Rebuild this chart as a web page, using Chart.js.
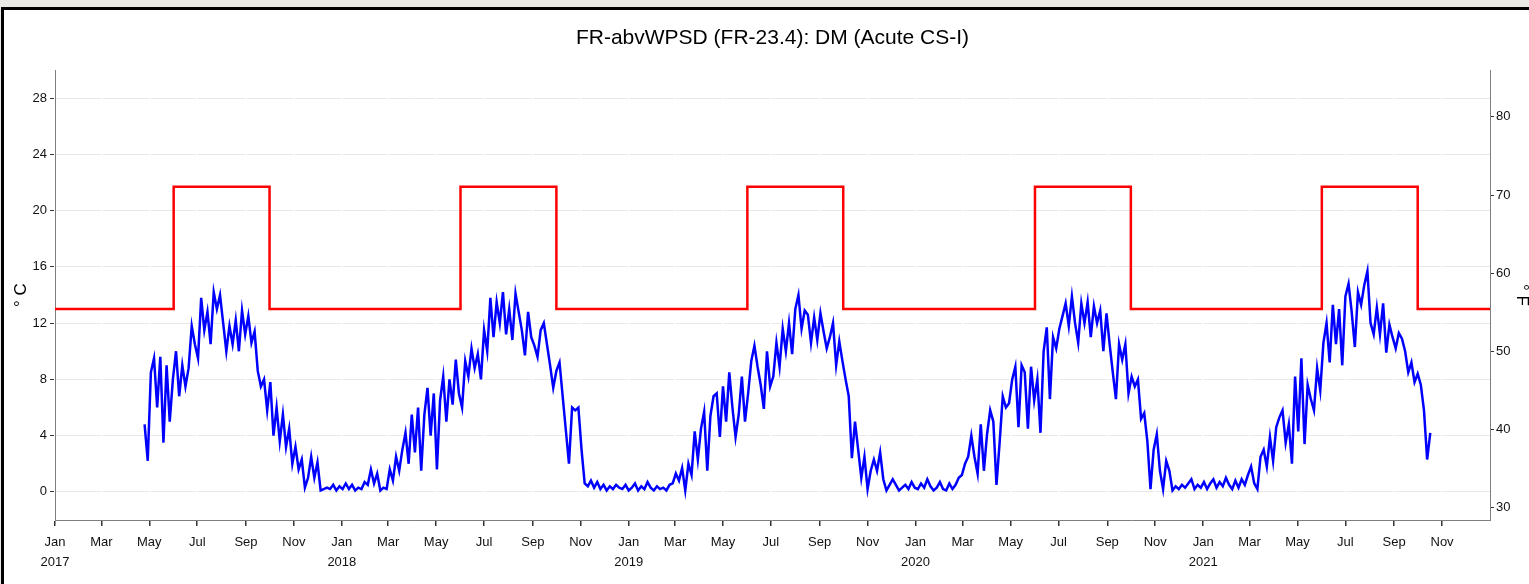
<!DOCTYPE html>
<html>
<head>
<meta charset="utf-8">
<script src="https://cdn.jsdelivr.net/npm/chart.js@4.4.1/dist/chart.umd.min.js"></script>
<style>
  html, body { margin: 0; padding: 0; background: #fff; }
  #chart { display: block; }
</style>
</head>
<body>
<canvas id="chart" width="1529" height="584"></canvas>
<script>
// water temperature, one reading every 4 days starting 2017-04-25 (deg C)
const firstReading = [2017, 3, 25];
const readingStepDays = 4;
const tempC = [
  4.8, 2.2, 8.5, 9.5, 6.0, 9.6, 3.5, 9.0, 5.0, 8.0,
  10.0, 6.8, 9.0, 7.5, 8.8, 11.8, 10.5, 9.5, 13.8, 11.5,
  12.8, 10.5, 14.2, 13.0, 14.0, 12.0, 10.0, 11.8, 10.5, 12.2,
  10.0, 12.9, 11.2, 12.5, 10.6, 11.4, 8.6, 7.5, 8.0, 5.8,
  7.8, 4.0, 6.0, 3.6, 5.5, 3.2, 4.5, 2.0, 3.2, 1.6,
  2.3, 0.3, 1.0, 2.5, 1.0, 2.1, 0.1, 0.2, 0.3, 0.2,
  0.5, 0.1, 0.4, 0.2, 0.6, 0.2, 0.5, 0.1, 0.3, 0.2,
  0.7, 0.5, 1.6, 0.6, 1.3, 0.1, 0.3, 0.2, 1.6, 0.8,
  2.5, 1.5, 3.0, 4.2, 2.0, 5.5, 2.8, 6.0, 1.5, 5.5,
  7.4, 4.0, 7.0, 1.6, 6.5, 8.2, 5.0, 8.0, 6.2, 9.4,
  7.0, 6.0, 9.3, 8.2, 10.2, 8.8, 9.8, 8.0, 11.5, 10.0,
  13.8, 11.0, 13.5, 12.0, 14.2, 11.2, 13.0, 10.8, 14.1, 12.8,
  11.5, 9.7, 12.8, 11.0, 10.4, 9.6, 11.5, 12.0, 10.5, 9.0,
  7.4, 8.6, 9.2, 6.8, 4.4, 2.0, 6.0, 5.8, 6.0, 3.0,
  0.6, 0.4, 0.8, 0.3, 0.7, 0.2, 0.5, 0.1, 0.4, 0.2,
  0.5, 0.3, 0.2, 0.5, 0.1, 0.3, 0.6, 0.1, 0.4, 0.2,
  0.7, 0.3, 0.1, 0.4, 0.2, 0.3, 0.1, 0.5, 0.6, 1.3,
  0.8, 1.7, 0.1, 2.0, 1.2, 4.3, 2.3, 4.5, 5.7, 1.5,
  5.4, 6.8, 7.0, 3.9, 7.5, 5.0, 8.5, 6.0, 3.9, 5.5,
  8.2, 5.0, 7.0, 9.3, 10.4, 8.9, 7.6, 5.9, 10.0, 7.5,
  8.2, 10.6, 8.9, 11.6, 10.0, 12.0, 9.8, 13.0, 14.0, 11.6,
  12.9, 12.6, 10.6, 12.4, 10.8, 12.7, 11.4, 10.2, 11.0, 12.0,
  9.0, 10.7, 9.3, 8.0, 6.8, 2.4, 5.0, 3.0, 1.0, 2.5,
  0.2, 1.5, 2.3, 1.5, 2.8, 0.9, 0.1, 0.5, 0.9, 0.5,
  0.1, 0.3, 0.5, 0.2, 0.7, 0.3, 0.2, 0.6, 0.3, 0.9,
  0.4, 0.1, 0.3, 0.7, 0.2, 0.1, 0.6, 0.2, 0.5, 1.0,
  1.2, 2.0, 2.5, 4.0, 2.5, 1.3, 4.8, 1.5, 4.1, 5.8,
  5.0, 0.5, 3.5, 6.8, 6.0, 6.3, 8.0, 8.9, 4.6, 9.0,
  8.5, 4.5, 8.9, 6.5, 8.0, 4.2, 10.0, 11.7, 6.6, 11.0,
  10.2, 11.6, 12.5, 13.4, 11.8, 13.9, 12.0, 10.6, 13.4, 12.0,
  13.5, 11.0, 13.2, 12.0, 12.9, 10.0, 12.7, 10.5, 8.5, 6.6,
  10.5, 9.4, 10.5, 7.0, 8.2, 7.5, 8.0, 5.2, 5.6, 3.6,
  0.2, 3.0, 4.1, 1.5, 0.2, 2.2, 1.5, 0.1, 0.4, 0.2,
  0.5, 0.3, 0.6, 0.9, 0.2, 0.5, 0.3, 0.7, 0.2, 0.6,
  0.9, 0.3, 0.7, 0.4, 1.0, 0.5, 0.2, 0.8, 0.3, 0.9,
  0.5, 1.2, 1.8, 0.6, 0.2, 2.5, 3.0, 1.8, 3.9, 2.2,
  4.6, 5.3, 5.8, 3.5, 4.8, 2.0, 8.2, 4.3, 9.5, 3.4,
  7.6, 6.6, 5.8, 8.8, 7.2, 10.6, 12.0, 9.2, 13.3, 10.5,
  13.0, 9.0, 13.9, 14.8, 12.8, 10.3, 14.2, 13.3, 14.7, 15.7,
  12.0, 11.2, 13.1, 11.2, 13.4, 9.9, 11.9, 11.0, 10.2, 11.3,
  10.9, 10.0, 8.5, 9.2, 7.8, 8.4, 7.6, 5.8, 2.3, 4.2
];

// acute criterion: summer limit Jun 1 - Sep 30, base limit the rest of the year
const criteriaYears = [2017, 2018, 2019, 2020, 2021];
const summerStart = [5, 1];
const summerEnd = [9, 1];
const summerLimitC = 21.7;
const baseLimitC = 13;

const axisStart = [2017, 0, 1];
const axisEnd = [2022, 0, 1];
const monthNames = ['Jan', 'Feb', 'Mar', 'Apr', 'May', 'Jun', 'Jul', 'Aug', 'Sep', 'Oct', 'Nov', 'Dec'];
const tickMonths = [0, 2, 4, 6, 8, 10];
const yTicksC = [0, 4, 8, 12, 16, 20, 24, 28];
const yTicksF = [30, 40, 50, 60, 70, 80];
const yRangeC = [-2, 30];

const FONT = '"Liberation Sans", Arial, sans-serif';

function dayOf(y, m, d) {
  return (Date.UTC(y, m, d) - Date.UTC(axisStart[0], axisStart[1], axisStart[2])) / 864e5;
}
const cToF = c => c * 9 / 5 + 32;

const day0 = dayOf(...firstReading);
const tempPoints = tempC.map((v, i) => ({ x: day0 + i * readingStepDays, y: v }));

const limitPoints = [{ x: 0, y: baseLimitC }];
criteriaYears.forEach(y => {
  limitPoints.push({ x: dayOf(y, summerStart[0], summerStart[1]), y: summerLimitC });
  limitPoints.push({ x: dayOf(y, summerEnd[0], summerEnd[1]), y: baseLimitC });
});
limitPoints.push({ x: dayOf(...axisEnd), y: baseLimitC });

const xTickValues = [];
const xTickLabels = [];
criteriaYears.forEach(y => {
  tickMonths.forEach(m => {
    xTickValues.push(dayOf(y, m, 1));
    xTickLabels.push(m === 0 ? [monthNames[m], String(y)] : monthNames[m]);
  });
});

const framePlugin = {
  id: 'frame',
  beforeDraw(chart) {
    const ctx = chart.ctx;
    ctx.save();
    ctx.fillStyle = '#e9e9e6';
    ctx.fillRect(0, 0, chart.width, chart.height);
    ctx.fillStyle = '#ffffff';
    ctx.fillRect(4, 10, chart.width - 4, chart.height - 10);
    ctx.fillStyle = '#000000';
    ctx.fillRect(1, 7, chart.width - 1, 3);
    ctx.fillRect(1, 7, 3, chart.height - 7);
    ctx.restore();
  }
};

new Chart(document.getElementById('chart'), {
  type: 'line',
  data: {
    datasets: [
      {
        label: 'criterion',
        data: limitPoints,
        borderColor: '#ff0000',
        borderWidth: 2.5,
        pointRadius: 0,
        stepped: true,
        yAxisID: 'y'
      },
      {
        label: 'temperature',
        data: tempPoints,
        borderColor: '#0000ff',
        borderWidth: 2.5,
        pointRadius: 0,
        tension: 0,
        yAxisID: 'y'
      }
    ]
  },
  options: {
    responsive: false,
    animation: false,
    // left padding keeps the title centred over the plot area
    layout: { padding: { left: 16, right: 0, top: 0, bottom: 0 } },
    plugins: {
      legend: { display: false },
      tooltip: { enabled: false },
      title: {
        display: true,
        text: 'FR-abvWPSD (FR-23.4): DM (Acute CS-I)',
        color: '#000',
        font: { family: FONT, size: 21, weight: 'normal', lineHeight: 1.2 },
        padding: { top: 25.4, bottom: 19.4 }
      }
    },
    scales: {
      y: {
        position: 'left',
        min: yRangeC[0],
        max: yRangeC[1],
        afterBuildTicks: s => { s.ticks = yTicksC.map(v => ({ value: v })); },
        afterFit: s => { s.width = 39; },
        grid: { color: '#e8e8e8', lineWidth: 1, tickColor: '#333', tickLength: 5, z: -2 },
        border: { color: '#7f7f7f', width: 1 },
        ticks: { color: '#111', padding: 3, font: { family: FONT, size: 13 } },
        title: {
          display: true,
          text: '° C',
          color: '#000',
          font: { family: FONT, size: 17, lineHeight: 0.5 },
          padding: { top: 0.8 }
        }
      },
      y2: {
        position: 'right',
        min: cToF(yRangeC[0]),
        max: cToF(yRangeC[1]),
        afterBuildTicks: s => { s.ticks = yTicksF.map(v => ({ value: v })); },
        afterFit: s => { s.width = 39; },
        grid: { drawOnChartArea: false, tickColor: '#333', tickLength: 4, z: -2 },
        border: { color: '#7f7f7f', width: 1 },
        ticks: { color: '#111', padding: 2, font: { family: FONT, size: 13 } },
        title: {
          display: true,
          text: '° F',
          color: '#000',
          font: { family: FONT, size: 17, lineHeight: 0.8 },
          padding: { top: 1 }
        }
      },
      x: {
        type: 'linear',
        position: 'bottom',
        min: 0,
        max: dayOf(...axisEnd),
        afterBuildTicks: s => { s.ticks = xTickValues.map(v => ({ value: v })); },
        afterFit: s => { s.height = 64; },
        grid: { color: '#ffffff', lineWidth: 1.5, tickColor: '#333', tickLength: 6, z: -1 },
        border: { color: '#7f7f7f', width: 1 },
        ticks: {
          color: '#111',
          padding: 6,
          autoSkip: false,
          maxRotation: 0,
          font: { family: FONT, size: 13, lineHeight: 1.55 },
          callback: (value, index) => xTickLabels[index]
        }
      }
    }
  },
  plugins: [framePlugin]
});
</script>
</body>
</html>
